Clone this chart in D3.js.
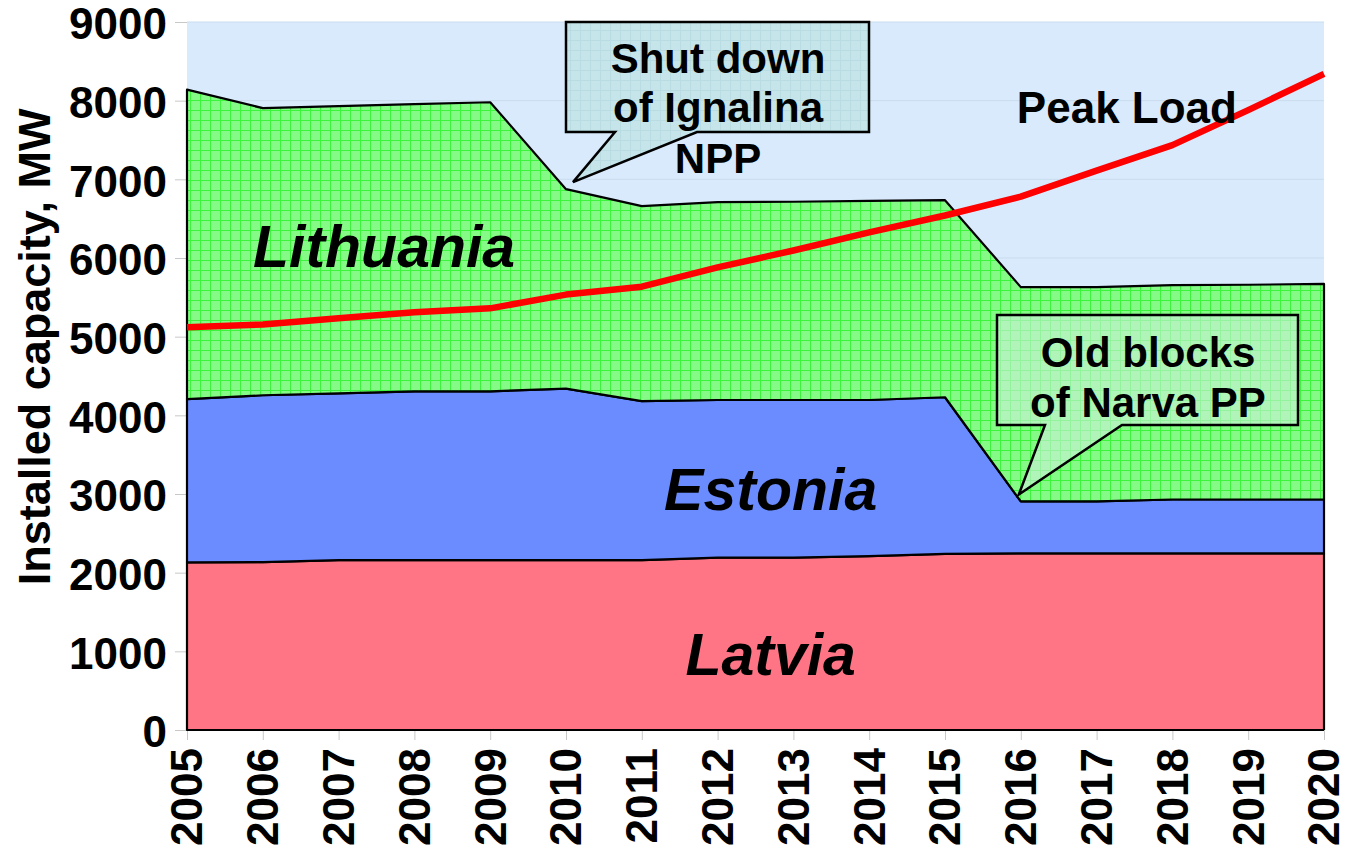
<!DOCTYPE html>
<html>
<head>
<meta charset="utf-8">
<script src="https://cdn.jsdelivr.net/npm/d3@7"></script>
<style>
  body { margin: 0; background: #fff; }
  svg { font-family: "Liberation Sans", Arial, sans-serif; font-weight: bold; }
</style>
</head>
<body>
<div id="chart"></div>
<script>
// Data
var years = [2005, 2006, 2007, 2008, 2009, 2010, 2011, 2012, 2013, 2014, 2015, 2016, 2017, 2018, 2019, 2020];
var latvia = [2130, 2135, 2160, 2160, 2160, 2160, 2160, 2190, 2190, 2210, 2240, 2245, 2245, 2245, 2245, 2245];
var estonia = [2075, 2120, 2120, 2145, 2145, 2180, 2020, 2005, 2005, 1985, 1990, 660, 660, 685, 685, 685];
var lithuania = [3935, 3650, 3650, 3650, 3675, 2535, 2480, 2515, 2520, 2530, 2505, 2725, 2725, 2725, 2730, 2740];
var peakLoad = [5120, 5155, 5235, 5310, 5360, 5535, 5635, 5880, 6095, 6325, 6540, 6780, 7110, 7435, 7880, 8340];
var yTicks = [0, 1000, 2000, 3000, 4000, 5000, 6000, 7000, 8000, 9000];

var seriesNames = ["Latvia", "Estonia", "Lithuania"];
var seriesColors = {Latvia: "#ff7585", Estonia: "#6b8cff", Lithuania: "url(#greenGrid)"};

var table = years.map(function(y, i) {
  return {year: y, Latvia: latvia[i], Estonia: estonia[i], Lithuania: lithuania[i]};
});

var width = 1346, height = 849;
var margin = {left: 187, right: 22, top: 22, bottom: 119};

var svg = d3.select("#chart").append("svg")
  .attr("width", width)
  .attr("height", height);

var defs = svg.append("defs");

var green = defs.append("pattern")
  .attr("id", "greenGrid")
  .attr("patternUnits", "userSpaceOnUse")
  .attr("width", 10).attr("height", 10);
green.append("rect").attr("width", 10).attr("height", 10).attr("fill", "#86fa86");
green.append("path").attr("d", "M0 0.5H10M0.5 0V10")
  .attr("stroke", "#3cf43c").attr("stroke-width", 1);

var teal = defs.append("pattern")
  .attr("id", "tealGrid")
  .attr("patternUnits", "userSpaceOnUse")
  .attr("width", 10).attr("height", 10);
teal.append("rect").attr("width", 10).attr("height", 10).attr("fill", "#c6e5ea");
teal.append("path").attr("d", "M0 0.5H10M0.5 0V10")
  .attr("stroke", "#b8dce1").attr("stroke-width", 1);

var x = d3.scaleLinear()
  .domain([2005, 2020])
  .range([margin.left, width - margin.right]);

var y = d3.scaleLinear()
  .domain([0, 9000])
  .range([height - margin.bottom, margin.top]);

// plot background
svg.append("rect")
  .attr("x", x(2005)).attr("y", y(9000))
  .attr("width", x(2020) - x(2005))
  .attr("height", y(0) - y(9000))
  .attr("fill", "#d8eafc");

// y axis with grid lines
var yAxis = svg.append("g")
  .attr("transform", "translate(" + margin.left + ",0)")
  .call(d3.axisLeft(y).tickValues(yTicks).tickSize(12).tickPadding(8).tickFormat(d3.format("d")));
yAxis.select(".domain").remove();
yAxis.selectAll(".tick line").attr("stroke", "#c8c8c8");
yAxis.selectAll(".tick text")
  .attr("font-size", 44).attr("font-weight", "bold").attr("fill", "#000")
  .attr("font-family", "Liberation Sans, Arial, sans-serif")
  .attr("dy", "0.38em");

svg.append("g").selectAll("line")
  .data(yTicks.slice(1))
  .join("line")
  .attr("x1", x(2005)).attr("x2", x(2020))
  .attr("y1", function(d) { return y(d); })
  .attr("y2", function(d) { return y(d); })
  .attr("stroke", "#c9dced").attr("stroke-width", 1);

// stacked areas
var stack = d3.stack().keys(seriesNames);
var stacked = stack(table);

var area = d3.area()
  .x(function(d) { return x(d.data.year); })
  .y0(function(d) { return y(d[0]); })
  .y1(function(d) { return y(d[1]); });

svg.append("g").selectAll("path")
  .data(stacked)
  .join("path")
  .attr("d", area)
  .attr("fill", function(d) { return seriesColors[d.key]; })
  .attr("stroke", "#000")
  .attr("stroke-width", 2.2)
  .attr("stroke-linejoin", "round");

// x axis
var xAxis = svg.append("g")
  .attr("transform", "translate(0," + y(0) + ")")
  .call(d3.axisBottom(x).tickValues(years).tickSize(10).tickPadding(0).tickFormat(d3.format("d")));
xAxis.select(".domain").remove();
xAxis.selectAll(".tick line").attr("stroke", "#c8c8c8");
xAxis.selectAll(".tick text")
  .attr("font-size", 44).attr("font-weight", "bold").attr("fill", "#000")
  .attr("font-family", "Liberation Sans, Arial, sans-serif")
  .attr("text-anchor", "end")
  .attr("transform", "translate(0,18) rotate(-90)")
  .attr("x", 0).attr("y", 0).attr("dy", "0.34em");

// axis line at zero
svg.append("line")
  .attr("x1", x(2005)).attr("x2", x(2020))
  .attr("y1", y(0)).attr("y2", y(0))
  .attr("stroke", "#000").attr("stroke-width", 2.2);

// peak load line
var line = d3.line()
  .x(function(d, i) { return x(years[i]); })
  .y(function(d) { return y(d); });

svg.append("path")
  .datum(peakLoad)
  .attr("d", line)
  .attr("fill", "none")
  .attr("stroke", "#ff0000")
  .attr("stroke-width", 6.5)
  .attr("stroke-linejoin", "round");

// y axis title
svg.append("text")
  .attr("transform", "translate(50," + y(4870) + ") rotate(-90)")
  .attr("text-anchor", "middle")
  .attr("font-size", 45)
  .text("Installed capacity, MW");

// series labels
var labels = [
  {text: "Lithuania", year: 2007.6, value: 5880, italic: true},
  {text: "Estonia", year: 2012.7, value: 2800, italic: true},
  {text: "Latvia", year: 2012.7, value: 700, italic: true},
  {text: "Peak Load", year: 2017.4, value: 7720, italic: false, size: 44}
];
svg.append("g").selectAll("text")
  .data(labels)
  .join("text")
  .attr("x", function(d) { return x(d.year); })
  .attr("y", function(d) { return y(d.value); })
  .attr("text-anchor", "middle")
  .attr("font-size", function(d) { return d.size || 59; })
  .attr("font-style", function(d) { return d.italic ? "italic" : "normal"; })
  .text(function(d) { return d.text; });

// callouts
function callout(box, fill, lines, lineY) {
  var g = svg.append("g");
  var d = "M" + box.x0 + "," + box.y0 + "H" + box.x1 + "V" + box.y1 +
    "H" + box.b2 + "L" + box.tx + "," + box.ty + "L" + box.b1 + "," + box.y1 +
    "H" + box.x0 + "Z";
  g.append("path")
    .attr("d", d)
    .attr("fill", fill)
    .attr("stroke", "#000")
    .attr("stroke-width", 2.5)
    .attr("stroke-linejoin", "miter");
  g.selectAll("text")
    .data(lines)
    .join("text")
    .attr("x", box.cx)
    .attr("y", function(t, i) { return lineY[i]; })
    .attr("text-anchor", "middle")
    .attr("font-size", 42)
    .text(function(t) { return t; });
}

callout({x0: 566, x1: 869, y0: 22, y1: 132, b1: 615, b2: 697, tx: x(2010) + 7, ty: y(6875) - 7, cx: 718},
  "url(#tealGrid)", ["Shut down", "of Ignalina", "NPP"], [73, 122, 173]);

callout({x0: 997, x1: 1298, y0: 315, y1: 425, b1: 1045, b2: 1122, tx: x(2016) - 2, ty: y(2905) - 7, cx: 1148},
  "rgba(205,240,220,0.6)", ["Old blocks", "of Narva PP"], [367, 417]);
</script>
</body>
</html>
